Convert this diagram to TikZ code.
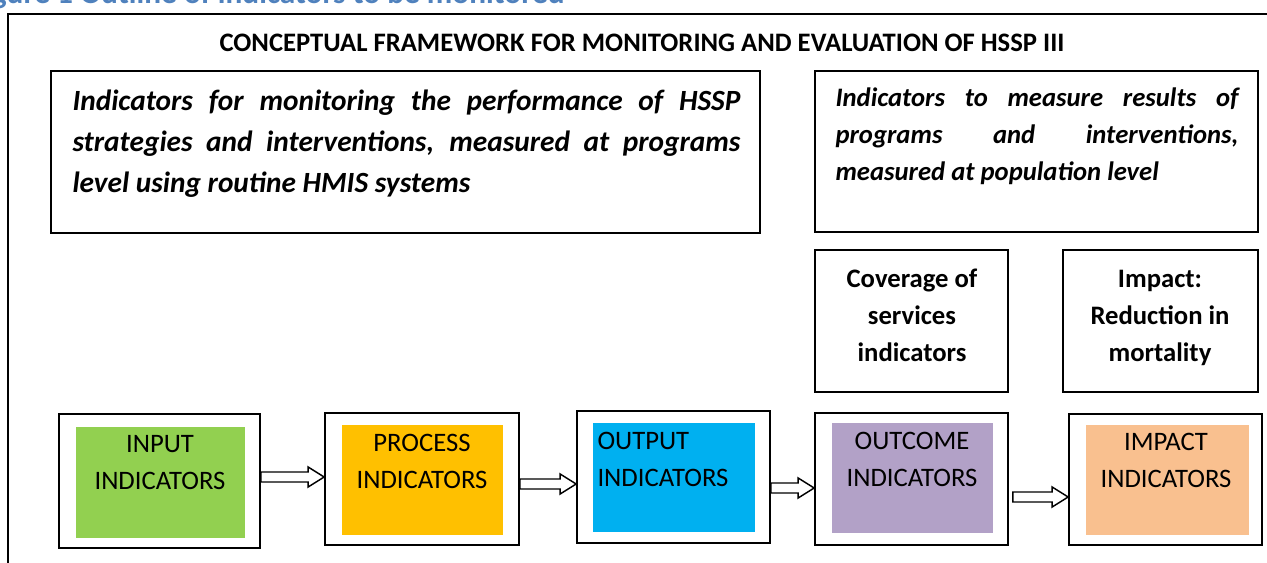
\documentclass[tikz,border=0pt]{standalone}
\usepackage{fontspec}
\setmainfont{Carlito}
\usetikzlibrary{calc}

\definecolor{inputgreen}{HTML}{92D050}
\definecolor{processorange}{HTML}{FFC000}
\definecolor{outputblue}{HTML}{00B0F0}
\definecolor{outcomepurple}{HTML}{B2A1C7}
\definecolor{impactpeach}{HTML}{F9C08F}
\definecolor{captionblue}{HTML}{4F81BD}

\tikzset{every picture/.style={line width=0.75pt}}
\tikzset{
	box/.style={draw, line width=1.3pt, inner sep=0pt},
	fillbox/.style={inner sep=0pt},
	headtext/.style={font=\fontsize{20}{24}\selectfont\bfseries},
	bodytext/.style={font=\fontsize{20}{27.75}\selectfont, align=center, inner sep=0pt},
	boldtext/.style={font=\fontsize{20}{27.75}\selectfont\bfseries, align=center, inner sep=0pt},
	blockarrow/.style={draw, line width=1.1pt, fill=white, to path={
		let \p1=(\tikztostart), \p2=(\tikztotarget) in
		(\x1,\y1+3.75pt) -- (\x2-12pt,\y1+3.75pt) -- (\x2-12pt,\y1+7.5pt) -- (\x2,\y1)
		-- (\x2-12pt,\y1-7.5pt) -- (\x2-12pt,\y1-3.75pt) -- (\x1,\y1-3.75pt) -- cycle}}
}

\begin{document}
\begin{tikzpicture}[x=0.75pt,y=0.75pt,yscale=-1,xscale=1]
	\useasboundingbox (0,0) rectangle (1267,563);
	\clip (0,0) rectangle (1267,563);

	% Caption, cut off at the top of the page
	\node[anchor=base east, inner sep=0pt, text=captionblue, font=\fontsize{23.5}{26}\selectfont\bfseries] (caption) at (565,3.5) {Figure 1 Outline of indicators to be monitored};

	% Outer frame
	\draw[line width=1.3pt] (8,600) -- (8,14) -- (1300,14);

	% Title
	\node[headtext] (title) at (642,43) {CONCEPTUAL FRAMEWORK FOR MONITORING AND EVALUATION OF HSSP III};

	% Upper boxes
	\node[box, minimum width=531.75pt, minimum height=121.5pt] (programs) at (405.5,152) {};
	\node[anchor=north west, inner sep=0pt, text width=501pt, align=justify, font=\fontsize{22}{30.75}\selectfont\bfseries\itshape] (programstext) at (72,89) {Indicators for monitoring the performance of HSSP\linebreak strategies and interventions, measured at programs\linebreak level using routine HMIS systems};

	\node[box, minimum width=332.25pt, minimum height=120.75pt] (population) at (1036.5,151.5) {};
	\node[anchor=north west, inner sep=0pt, text width=302.25pt, align=justify, font=\fontsize{20}{28}\selectfont\bfseries\itshape] (populationtext) at (835,87) {Indicators to measure results of\linebreak programs and interventions,\linebreak measured at population level};

	\node[box, minimum width=144.75pt, minimum height=106.5pt] (coverage) at (911.5,321) {};
	\node[boldtext] (coveragetext) at (912,315) {Coverage of\\services\\indicators};

	\node[box, minimum width=146.25pt, minimum height=106.5pt] (reduction) at (1160.5,321) {};
	\node[boldtext] (reductiontext) at (1160,318) {Impact:\\Reduction in\\mortality};

	% Indicator chain
	\node[box, minimum width=150.75pt, minimum height=100.5pt] (input) at (159.5,481) {};
	\node[fillbox, fill=inputgreen, minimum width=126.75pt, minimum height=83.25pt] (inputfill) at (160.5,482.5) {};
	\node[bodytext] (inputtext) at (160,462.5) {INPUT\\INDICATORS};

	\node[box, minimum width=145.5pt, minimum height=99pt] (process) at (422,479) {};
	\node[fillbox, fill=processorange, minimum width=120.75pt, minimum height=82.5pt] (processfill) at (422.5,480) {};
	\node[bodytext] (processtext) at (422,461) {PROCESS\\INDICATORS};

	\node[box, minimum width=144.75pt, minimum height=99pt] (output) at (673.5,477) {};
	\node[fillbox, fill=outputblue, minimum width=121.5pt, minimum height=81.75pt] (outputfill) at (674,477.5) {};
	\node[bodytext, align=left, anchor=west] (outputtext) at (597,459) {OUTPUT\\INDICATORS};

	\node[box, minimum width=144.75pt, minimum height=99pt] (outcome) at (911.5,479) {};
	\node[fillbox, fill=outcomepurple, minimum width=120.75pt, minimum height=82.5pt] (outcomefill) at (912.5,478) {};
	\node[bodytext] (outcometext) at (912,459.5) {OUTCOME\\INDICATORS};

	\node[box, minimum width=144.75pt, minimum height=98.25pt] (impact) at (1165.5,479.5) {};
	\node[fillbox, fill=impactpeach, minimum width=122.25pt, minimum height=82.5pt] (impactfill) at (1167.5,480) {};
	\node[bodytext] (impacttext) at (1166,460.5) {IMPACT\\INDICATORS};

	% Arrows
	\draw[blockarrow] ([yshift=-3pt]input.east) to (process.west);
	\draw[blockarrow] ([yshift=3.75pt]process.east) to (output.west);
	\draw[blockarrow] ([yshift=8.25pt]output.east) to (outcome.west);
	\draw[blockarrow] ([xshift=3pt,yshift=13.5pt]outcome.east) to (impact.west);

\end{tikzpicture}
\end{document}
